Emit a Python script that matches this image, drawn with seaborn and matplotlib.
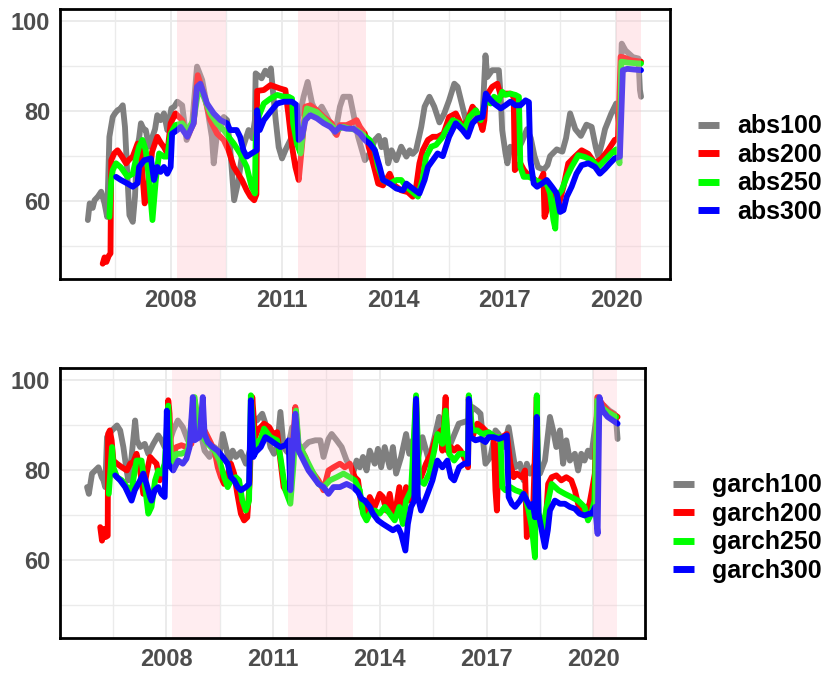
import numpy as np
import pandas as pd
import matplotlib
matplotlib.use('Agg')
import matplotlib.pyplot as plt
import seaborn as sns

sns.set_style('white')
plt.rcParams['font.family'] = ['Liberation Sans', 'DejaVu Sans']
plt.rcParams['font.weight'] = 'bold'

# ── datos panel superior (abs) ───────────────────────────────────────────────
abs100_t = [2005.77, 2005.82, 2005.90, 2005.95, 2006.04, 2006.13, 2006.22, 2006.29, 2006.35, 2006.44,
            2006.50, 2006.57, 2006.64, 2006.71, 2006.77, 2006.84, 2006.89, 2006.98, 2007.04, 2007.09,
            2007.15, 2007.20, 2007.27, 2007.33, 2007.42, 2007.51, 2007.58, 2007.64, 2007.73, 2007.82,
            2007.91, 2008.02, 2008.10, 2008.18, 2008.31, 2008.43, 2008.50, 2008.58, 2008.71, 2008.85,
            2008.98, 2009.11, 2009.16, 2009.25, 2009.35, 2009.43, 2009.52, 2009.60, 2009.71, 2009.83,
            2009.95, 2010.10, 2010.20, 2010.27, 2010.29, 2010.45, 2010.55, 2010.64, 2010.70, 2010.76,
            2010.83, 2010.91, 2011.00, 2011.10, 2011.25, 2011.40, 2011.50, 2011.58, 2011.69, 2011.81,
            2011.94, 2012.07, 2012.20, 2012.30, 2012.43, 2012.56, 2012.65, 2012.83, 2012.92, 2013.05,
            2013.23, 2013.36, 2013.50, 2013.60, 2013.68, 2013.77, 2013.86, 2013.95, 2014.08, 2014.21,
            2014.35, 2014.44, 2014.52, 2014.61, 2014.75, 2014.84, 2014.97, 2015.10, 2015.24, 2015.37,
            2015.50, 2015.64, 2015.73, 2015.86, 2015.95, 2016.08, 2016.22, 2016.31, 2016.40, 2016.48,
            2016.53, 2016.66, 2016.84, 2016.89, 2016.93, 2017.02, 2017.07, 2017.15, 2017.30, 2017.45,
            2017.60, 2017.70, 2017.80, 2017.90, 2018.05, 2018.15, 2018.22, 2018.40, 2018.55, 2018.65,
            2018.76, 2018.90, 2019.05, 2019.20, 2019.34, 2019.45, 2019.52, 2019.62, 2019.70, 2019.87,
            2020.00, 2020.08, 2020.15, 2020.25, 2020.45, 2020.60, 2020.64, 2020.67]
abs100_v = [55.8, 59.5, 58.5, 60.2, 61.0, 62.1, 59.5, 56.5, 74.3, 78.7,
            79.5, 80.2, 80.5, 81.3, 76.5, 64.7, 56.9, 55.4, 61.0, 71.3,
            74.0, 77.3, 76.0, 75.8, 72.1, 74.3, 76.0, 79.1, 78.0, 79.5,
            75.8, 80.6, 81.0, 82.1, 81.3, 73.6, 75.0, 77.3, 89.9, 86.9,
            81.0, 74.3, 68.4, 75.0, 76.5, 78.7, 78.0, 72.1, 60.2, 64.7,
            72.0, 75.8, 74.0, 78.0, 88.4, 87.3, 89.0, 88.0, 89.5, 84.0,
            78.0, 72.0, 69.5, 71.5, 74.0, 78.0, 80.0, 83.2, 86.5, 81.7,
            79.5, 81.0, 79.0, 77.3, 75.0, 81.0, 83.2, 83.2, 79.5, 74.3,
            69.1, 70.6, 73.6, 74.5, 72.0, 73.6, 68.4, 71.3, 69.1, 72.1,
            69.9, 71.3, 70.5, 71.3, 76.5, 81.0, 83.2, 81.0, 77.5, 79.5,
            82.4, 86.1, 85.4, 81.0, 78.0, 76.5, 80.2, 78.0, 78.7, 92.4,
            87.6, 89.1, 89.1, 83.2, 75.8, 70.6, 68.4, 72.1, 70.6, 73.0,
            76.0, 74.0, 70.0, 67.5, 67.0, 68.0, 70.0, 71.5, 71.0, 74.0,
            79.5, 76.0, 74.5, 77.0, 76.5, 72.0, 69.9, 73.0, 76.0, 79.5,
            81.7, 77.0, 95.0, 93.5, 92.0, 91.7, 84.7, 83.2]

abs200_t = [2006.17, 2006.22, 2006.27, 2006.33, 2006.38, 2006.40, 2006.48, 2006.57, 2006.68, 2006.80,
            2006.89, 2006.98, 2007.11, 2007.20, 2007.25, 2007.30, 2007.38, 2007.50, 2007.64, 2007.73,
            2007.82, 2007.91, 2008.00, 2008.13, 2008.31, 2008.45, 2008.62, 2008.73, 2008.89, 2009.07,
            2009.25, 2009.43, 2009.56, 2009.70, 2009.92, 2010.05, 2010.15, 2010.25, 2010.31, 2010.33,
            2010.51, 2010.69, 2010.96, 2011.09, 2011.18, 2011.27, 2011.36, 2011.45, 2011.54, 2011.63,
            2011.76, 2011.94, 2012.12, 2012.34, 2012.47, 2012.56, 2012.74, 2012.92, 2013.01, 2013.10,
            2013.23, 2013.36, 2013.50, 2013.59, 2013.72, 2013.90, 2014.03, 2014.21, 2014.39, 2014.52,
            2014.61, 2014.70, 2014.79, 2014.93, 2015.06, 2015.19, 2015.35, 2015.50, 2015.68, 2015.86,
            2016.00, 2016.13, 2016.26, 2016.40, 2016.45, 2016.49, 2016.66, 2016.80, 2016.89, 2017.02,
            2017.15, 2017.24, 2017.27, 2017.33, 2017.42, 2017.51, 2017.60, 2017.73, 2017.91, 2018.04,
            2018.07, 2018.13, 2018.18, 2018.31, 2018.45, 2018.58, 2018.71, 2018.89, 2019.07, 2019.25,
            2019.43, 2019.61, 2019.78, 2019.96, 2020.05, 2020.12, 2020.25, 2020.40, 2020.67]
abs200_v = [46.1, 47.5, 46.5, 47.8, 48.4, 69.1, 70.6, 71.3, 70.0, 68.4,
            69.3, 69.9, 72.8, 71.5, 65.0, 59.5, 62.0, 71.0, 74.3, 73.0,
            72.0, 70.6, 77.3, 79.5, 78.0, 74.3, 77.3, 88.0, 83.9, 78.0,
            75.0, 73.6, 71.3, 67.6, 64.7, 62.4, 61.0, 60.2, 61.5, 84.5,
            84.7, 85.8, 85.0, 84.7, 78.7, 72.1, 67.6, 64.7, 72.5, 81.0,
            81.3, 80.2, 78.7, 77.3, 74.7, 76.9, 76.9, 77.6, 78.0, 76.5,
            75.0, 71.3, 66.9, 63.9, 63.5, 66.1, 63.5, 62.4, 62.0, 61.0,
            63.0, 68.4, 71.3, 73.6, 74.3, 74.3, 75.0, 78.7, 79.5, 76.5,
            78.0, 81.0, 79.5, 75.8, 78.0, 83.2, 85.4, 86.1, 83.5, 83.9,
            83.9, 83.2, 66.9, 67.5, 68.4, 67.0, 66.1, 65.4, 63.9, 66.1,
            56.5, 58.0, 63.2, 60.2, 59.0, 63.2, 68.4, 69.9, 71.3, 70.5,
            68.4, 69.5, 71.3, 73.6, 73.8, 92.1, 91.8, 91.3, 91.0]

abs250_t = [2006.35, 2006.40, 2006.44, 2006.53, 2006.66, 2006.84, 2006.98, 2007.06, 2007.15, 2007.24,
            2007.33, 2007.42, 2007.51, 2007.60, 2007.69, 2007.82, 2007.91, 2008.00, 2008.13, 2008.31,
            2008.45, 2008.62, 2008.76, 2008.89, 2009.07, 2009.25, 2009.43, 2009.56, 2009.70, 2009.87,
            2010.05, 2010.18, 2010.27, 2010.29, 2010.38, 2010.51, 2010.69, 2010.87, 2011.05, 2011.18,
            2011.27, 2011.30, 2011.40, 2011.50, 2011.58, 2011.67, 2011.94, 2012.30, 2012.47, 2012.65,
            2012.83, 2013.01, 2013.19, 2013.36, 2013.50, 2013.59, 2013.72, 2013.90, 2014.08, 2014.21,
            2014.35, 2014.52, 2014.66, 2014.79, 2014.88, 2015.02, 2015.15, 2015.33, 2015.42, 2015.60,
            2015.77, 2015.91, 2016.04, 2016.22, 2016.35, 2016.49, 2016.62, 2016.71, 2016.84, 2016.93,
            2017.02, 2017.15, 2017.29, 2017.38, 2017.42, 2017.51, 2017.65, 2017.82, 2018.00, 2018.13,
            2018.22, 2018.31, 2018.36, 2018.40, 2018.53, 2018.67, 2018.80, 2018.98, 2019.16, 2019.34,
            2019.52, 2019.70, 2019.87, 2020.00, 2020.09, 2020.14, 2020.30, 2020.59, 2020.67]
abs250_v = [56.5, 64.7, 66.9, 68.4, 67.5, 65.4, 66.1, 69.1, 72.1, 73.6,
            71.3, 64.7, 55.8, 64.7, 70.6, 69.9, 69.9, 75.0, 76.9, 77.3,
            75.8, 78.0, 85.4, 83.2, 79.5, 77.3, 75.8, 74.3, 72.8, 70.6,
            67.6, 63.2, 61.7, 73.6, 79.0, 81.7, 82.8, 83.6, 83.2, 83.2,
            82.8, 77.3, 72.8, 70.6, 76.5, 80.6, 79.8, 76.9, 75.8, 76.5,
            76.1, 75.8, 74.7, 73.6, 71.3, 67.6, 64.7, 63.9, 64.7, 64.7,
            63.2, 62.0, 61.0, 65.0, 69.9, 72.1, 72.5, 74.3, 75.8, 78.0,
            77.3, 75.8, 78.7, 80.2, 78.0, 82.4, 81.7, 83.2, 82.4, 84.3,
            83.6, 83.9, 83.6, 83.2, 67.6, 65.4, 65.4, 64.7, 64.0, 63.9,
            61.7, 55.8, 53.9, 61.0, 62.4, 65.4, 67.6, 70.2, 69.8, 69.1,
            67.6, 69.1, 70.6, 71.5, 68.4, 91.0, 90.8, 90.6, 90.6]

abs300_t = [2006.53, 2006.66, 2006.84, 2006.98, 2007.11, 2007.15, 2007.29, 2007.47, 2007.55, 2007.64,
            2007.73, 2007.82, 2007.91, 2008.00, 2008.04, 2008.18, 2008.27, 2008.45, 2008.62, 2008.71,
            2008.80, 2008.98, 2009.16, 2009.34, 2009.52, 2009.60, 2009.78, 2009.87, 2009.96, 2010.05,
            2010.18, 2010.32, 2010.33, 2010.40, 2010.51, 2010.69, 2010.87, 2011.05, 2011.27, 2011.40,
            2011.45, 2011.54, 2011.63, 2011.76, 2011.94, 2012.12, 2012.30, 2012.43, 2012.56, 2012.74,
            2012.92, 2013.10, 2013.23, 2013.36, 2013.50, 2013.63, 2013.72, 2013.90, 2014.08, 2014.26,
            2014.35, 2014.52, 2014.70, 2014.84, 2014.93, 2015.06, 2015.19, 2015.33, 2015.50, 2015.68,
            2015.86, 2016.00, 2016.13, 2016.26, 2016.40, 2016.49, 2016.58, 2016.71, 2016.89, 2017.02,
            2017.15, 2017.29, 2017.42, 2017.56, 2017.65, 2017.69, 2017.78, 2017.87, 2018.00, 2018.13,
            2018.27, 2018.40, 2018.49, 2018.58, 2018.67, 2018.80, 2018.93, 2019.07, 2019.25, 2019.43,
            2019.56, 2019.70, 2019.83, 2019.96, 2020.10, 2020.18, 2020.30, 2020.67]
abs300_v = [65.4, 64.7, 63.9, 63.2, 64.0, 67.6, 69.1, 69.5, 64.7, 67.6,
            66.5, 67.6, 66.1, 67.6, 75.0, 75.8, 76.5, 74.3, 77.3, 85.4,
            86.1, 81.7, 79.5, 78.0, 77.3, 75.8, 75.8, 74.3, 71.3, 69.9,
            70.6, 71.3, 80.2, 75.8, 78.0, 79.9, 81.7, 82.1, 82.1, 81.3,
            73.6, 74.3, 78.0, 79.1, 78.4, 77.3, 76.5, 75.4, 76.5, 76.1,
            76.1, 75.0, 73.6, 72.8, 71.3, 67.6, 64.7, 63.9, 62.8, 62.4,
            63.9, 62.8, 61.7, 64.7, 67.6, 69.1, 70.6, 70.0, 74.3, 77.3,
            75.8, 74.3, 77.3, 78.4, 78.7, 83.9, 82.8, 81.7, 80.6, 81.3,
            82.1, 81.3, 81.3, 82.4, 82.0, 69.1, 63.9, 63.2, 63.9, 64.7,
            63.2, 61.7, 57.6, 58.0, 61.0, 63.2, 66.1, 68.0, 68.4, 67.6,
            66.1, 67.2, 68.4, 69.5, 69.9, 89.1, 89.4, 89.1]

# ── datos panel inferior (garch) ─────────────────────────────────────────────
garch100_t = [2005.78, 2005.83, 2005.92, 2006.01, 2006.10, 2006.19, 2006.24, 2006.29, 2006.34, 2006.48,
              2006.62, 2006.71, 2006.80, 2006.89, 2006.94, 2007.03, 2007.13, 2007.18, 2007.27, 2007.40,
              2007.50, 2007.64, 2007.78, 2007.87, 2007.96, 2008.10, 2008.20, 2008.33, 2008.47, 2008.61,
              2008.75, 2008.89, 2009.08, 2009.22, 2009.36, 2009.50, 2009.59, 2009.68, 2009.77, 2009.87,
              2009.96, 2010.10, 2010.24, 2010.38, 2010.45, 2010.55, 2010.70, 2010.79, 2010.93, 2011.03,
              2011.12, 2011.21, 2011.30, 2011.40, 2011.54, 2011.63, 2011.77, 2011.86, 2012.00, 2012.19,
              2012.33, 2012.42, 2012.56, 2012.65, 2012.79, 2012.93, 2013.07, 2013.21, 2013.25, 2013.35,
              2013.44, 2013.53, 2013.63, 2013.72, 2013.86, 2013.95, 2014.04, 2014.14, 2014.28, 2014.37,
              2014.46, 2014.60, 2014.74, 2014.83, 2014.93, 2015.06, 2015.20, 2015.38, 2015.52, 2015.67,
              2015.76, 2015.95, 2016.10, 2016.22, 2016.50, 2016.60, 2016.74, 2016.83, 2016.92, 2016.97,
              2017.11, 2017.25, 2017.34, 2017.48, 2017.62, 2017.71, 2017.80, 2017.94, 2018.04, 2018.13,
              2018.22, 2018.36, 2018.50, 2018.64, 2018.78, 2018.87, 2018.96, 2019.06, 2019.15, 2019.24,
              2019.34, 2019.48, 2019.57, 2019.66, 2019.75, 2019.85, 2019.94, 2020.00, 2020.06, 2020.17,
              2020.30, 2020.45, 2020.59, 2020.64, 2020.68]
garch100_v = [76.3, 74.8, 79.3, 80.0, 80.7, 78.5, 77.8, 76.3, 87.4, 88.9,
              90.0, 88.9, 85.2, 80.0, 77.8, 83.0, 91.1, 86.7, 85.2, 85.9,
              83.7, 85.9, 87.8, 86.7, 85.2, 86.5, 88.9, 91.1, 89.6, 86.7,
              87.4, 91.1, 84.4, 83.0, 85.2, 83.7, 88.1, 85.2, 82.2, 84.4,
              83.0, 84.1, 81.5, 85.2, 91.9, 91.1, 92.6, 90.4, 85.2, 83.7,
              85.2, 93.0, 85.2, 84.1, 89.6, 86.7, 83.7, 85.2, 86.3, 86.7,
              86.7, 83.0, 87.0, 88.1, 86.7, 85.2, 82.2, 80.7, 79.3, 82.2,
              80.7, 83.0, 80.0, 84.4, 81.5, 84.8, 80.7, 85.2, 80.7, 85.2,
              79.3, 83.0, 88.1, 83.7, 86.7, 82.2, 87.4, 82.2, 86.7, 91.9,
              89.6, 85.2, 88.1, 90.4, 91.1, 94.1, 93.3, 92.6, 85.2, 81.5,
              83.0, 88.9, 88.1, 85.2, 89.6, 85.2, 80.7, 81.5, 77.8, 81.5,
              79.3, 81.5, 79.3, 82.2, 91.9, 88.9, 85.2, 88.9, 81.5, 86.7,
              82.2, 83.7, 80.0, 83.7, 82.2, 84.4, 83.0, 86.7, 90.4, 94.8,
              94.4, 93.3, 92.6, 91.1, 87.0]

garch200_t = [2006.15, 2006.20, 2006.25, 2006.30, 2006.36, 2006.37, 2006.42, 2006.47, 2006.52, 2006.62,
              2006.76, 2006.90, 2006.99, 2007.08, 2007.17, 2007.27, 2007.36, 2007.45, 2007.55, 2007.64,
              2007.73, 2007.82, 2007.91, 2008.00, 2008.06, 2008.10, 2008.15, 2008.29, 2008.43, 2008.57,
              2008.71, 2008.80, 2008.89, 2009.08, 2009.22, 2009.36, 2009.45, 2009.54, 2009.63, 2009.73,
              2009.82, 2009.91, 2010.00, 2010.10, 2010.19, 2010.28, 2010.35, 2010.42, 2010.50, 2010.57,
              2010.75, 2010.90, 2011.00, 2011.12, 2011.21, 2011.30, 2011.44, 2011.53, 2011.63, 2011.72,
              2011.81, 2011.91, 2012.00, 2012.14, 2012.28, 2012.42, 2012.56, 2012.70, 2012.88, 2013.02,
              2013.16, 2013.30, 2013.39, 2013.49, 2013.58, 2013.72, 2013.86, 2014.00, 2014.09, 2014.18,
              2014.28, 2014.37, 2014.46, 2014.55, 2014.65, 2014.74, 2014.83, 2014.93, 2015.02, 2015.07,
              2015.16, 2015.30, 2015.44, 2015.58, 2015.72, 2015.76, 2015.85, 2015.90, 2016.00, 2016.09,
              2016.18, 2016.27, 2016.41, 2016.48, 2016.50, 2016.60, 2016.74, 2016.88, 2016.97, 2017.06,
              2017.20, 2017.25, 2017.29, 2017.34, 2017.43, 2017.57, 2017.67, 2017.76, 2017.85, 2017.99,
              2018.08, 2018.13, 2018.22, 2018.31, 2018.41, 2018.45, 2018.55, 2018.64, 2018.73, 2018.83,
              2018.96, 2019.10, 2019.24, 2019.38, 2019.48, 2019.57, 2019.66, 2019.80, 2019.89, 2019.96,
              2020.04, 2020.11, 2020.25, 2020.40, 2020.55, 2020.68]
garch200_v = [67.4, 64.4, 67.0, 65.2, 65.5, 88.1, 88.9, 86.7, 82.2, 81.5,
              80.7, 80.0, 81.5, 81.9, 83.7, 80.0, 74.8, 79.3, 83.0, 82.2,
              81.5, 77.8, 80.0, 81.5, 95.6, 92.6, 83.0, 85.2, 85.6, 85.2,
              85.9, 95.6, 91.1, 88.9, 86.7, 84.4, 80.7, 78.5, 77.0, 79.3,
              81.5, 79.3, 74.8, 70.4, 68.9, 69.6, 77.8, 96.3, 87.4, 88.9,
              90.4, 89.6, 88.1, 88.5, 82.2, 76.3, 74.8, 81.5, 94.1, 85.2,
              84.4, 83.0, 80.7, 79.3, 77.8, 75.6, 80.0, 80.7, 81.5, 80.7,
              81.5, 78.5, 77.8, 71.9, 70.4, 74.1, 71.9, 74.8, 74.1, 71.1,
              74.8, 70.4, 71.9, 76.3, 70.4, 76.3, 73.3, 77.8, 96.3, 79.3,
              78.5, 81.5, 83.7, 87.4, 88.9, 84.4, 96.3, 84.4, 85.2, 84.4,
              85.2, 84.4, 82.2, 80.7, 96.3, 87.4, 90.4, 89.6, 88.9, 88.1,
              87.4, 75.6, 71.1, 85.2, 87.4, 88.1, 81.5, 78.5, 79.3, 78.5,
              80.0, 65.2, 68.9, 71.9, 96.3, 70.4, 68.9, 65.9, 77.0, 78.5,
              78.9, 77.8, 78.5, 77.8, 75.6, 72.6, 70.4, 71.1, 72.6, 75.6,
              79.3, 96.3, 94.8, 93.3, 92.6, 91.9]

garch250_t = [2006.39, 2006.43, 2006.48, 2006.52, 2006.62, 2006.76, 2006.90, 2007.03, 2007.17, 2007.31,
              2007.41, 2007.50, 2007.59, 2007.69, 2007.78, 2007.87, 2007.96, 2008.06, 2008.15, 2008.29,
              2008.43, 2008.61, 2008.80, 2008.89, 2009.03, 2009.17, 2009.36, 2009.50, 2009.63, 2009.73,
              2009.82, 2009.96, 2010.05, 2010.14, 2010.24, 2010.33, 2010.38, 2010.47, 2010.57, 2010.66,
              2010.75, 2010.93, 2011.12, 2011.21, 2011.35, 2011.49, 2011.58, 2011.65, 2011.72, 2011.86,
              2012.00, 2012.14, 2012.28, 2012.42, 2012.60, 2012.79, 2012.98, 2013.16, 2013.30, 2013.44,
              2013.53, 2013.63, 2013.72, 2013.86, 2014.00, 2014.14, 2014.28, 2014.42, 2014.55, 2014.65,
              2014.74, 2014.88, 2015.02, 2015.11, 2015.25, 2015.39, 2015.53, 2015.62, 2015.76, 2015.85,
              2015.95, 2016.09, 2016.23, 2016.41, 2016.48, 2016.50, 2016.60, 2016.74, 2016.88, 2017.06,
              2017.25, 2017.39, 2017.44, 2017.53, 2017.67, 2017.81, 2017.95, 2018.08, 2018.18, 2018.27,
              2018.36, 2018.41, 2018.46, 2018.59, 2018.69, 2018.83, 2019.02, 2019.20, 2019.38, 2019.57,
              2019.75, 2019.85, 2019.94, 2020.03, 2020.11, 2020.22, 2020.40, 2020.64]
garch250_v = [74.8, 79.3, 85.2, 80.7, 78.5, 77.8, 76.3, 75.6, 82.2, 82.2,
              76.3, 70.4, 71.9, 77.8, 80.0, 79.3, 81.5, 94.4, 81.5, 83.7,
              83.7, 84.4, 96.3, 90.4, 87.4, 85.9, 84.4, 82.2, 78.5, 76.3,
              77.8, 78.5, 77.8, 73.3, 71.1, 73.3, 96.7, 85.2, 86.3, 87.0,
              89.3, 87.4, 86.7, 83.0, 75.6, 72.6, 81.5, 93.3, 85.9, 83.7,
              81.5, 79.3, 77.0, 76.3, 77.8, 78.5, 79.3, 78.5, 77.8, 75.6,
              70.4, 68.9, 70.4, 71.1, 70.4, 71.9, 70.4, 68.9, 71.9, 68.1,
              73.3, 75.6, 96.7, 77.8, 77.0, 79.3, 84.4, 88.1, 85.9, 93.3,
              83.7, 82.2, 83.7, 83.7, 82.2, 96.7, 88.9, 88.9, 88.1, 88.5,
              87.4, 87.4, 76.3, 75.6, 76.3, 75.6, 75.2, 74.4, 71.1, 67.4,
              60.7, 96.7, 70.4, 67.4, 71.9, 77.0, 75.6, 74.8, 74.1, 73.3,
              71.9, 68.9, 70.4, 73.3, 95.6, 94.1, 93.0, 91.9]

garch300_t = [2006.57, 2006.71, 2006.85, 2006.94, 2007.03, 2007.12, 2007.27, 2007.36, 2007.45, 2007.55,
              2007.59, 2007.68, 2007.78, 2007.87, 2007.96, 2008.02, 2008.06, 2008.20, 2008.34, 2008.47,
              2008.57, 2008.66, 2008.75, 2008.80, 2008.94, 2009.03, 2009.08, 2009.17, 2009.31, 2009.45,
              2009.59, 2009.73, 2009.82, 2009.91, 2010.01, 2010.10, 2010.24, 2010.33, 2010.38, 2010.45,
              2010.52, 2010.66, 2010.79, 2010.93, 2011.07, 2011.21, 2011.35, 2011.44, 2011.49, 2011.56,
              2011.63, 2011.72, 2011.86, 2012.00, 2012.14, 2012.28, 2012.42, 2012.56, 2012.70, 2012.88,
              2013.07, 2013.25, 2013.39, 2013.49, 2013.58, 2013.72, 2013.81, 2013.95, 2014.09, 2014.23,
              2014.37, 2014.51, 2014.60, 2014.72, 2014.79, 2014.88, 2014.97, 2015.02, 2015.07, 2015.16,
              2015.34, 2015.48, 2015.62, 2015.76, 2015.90, 2016.00, 2016.09, 2016.23, 2016.37, 2016.48,
              2016.50, 2016.55, 2016.69, 2016.83, 2016.97, 2017.06, 2017.20, 2017.34, 2017.48, 2017.57,
              2017.62, 2017.71, 2017.80, 2017.94, 2018.04, 2018.13, 2018.22, 2018.30, 2018.36, 2018.41,
              2018.46, 2018.55, 2018.64, 2018.72, 2018.78, 2018.92, 2019.06, 2019.20, 2019.34, 2019.48,
              2019.61, 2019.75, 2019.89, 2019.96, 2020.05, 2020.12, 2020.17, 2020.26, 2020.40, 2020.68]
garch300_v = [78.9, 77.8, 76.3, 74.8, 73.3, 75.6, 77.8, 79.3, 77.0, 74.1,
              73.3, 75.6, 76.3, 74.8, 74.1, 93.3, 81.5, 80.0, 82.2, 81.5,
              82.6, 85.2, 96.3, 86.7, 87.4, 96.3, 88.1, 86.3, 85.2, 84.4,
              83.0, 81.5, 78.5, 77.8, 76.3, 75.6, 76.3, 77.0, 95.6, 83.0,
              84.1, 85.2, 87.4, 86.7, 85.9, 85.2, 85.6, 86.7, 75.6, 85.2,
              92.6, 84.4, 82.2, 80.0, 78.5, 77.0, 76.3, 74.8, 76.3, 76.3,
              77.0, 76.3, 75.2, 73.7, 73.3, 71.9, 70.4, 68.9, 68.1, 67.4,
              66.7, 67.4, 65.9, 62.2, 68.1, 71.9, 73.3, 95.9, 74.1, 71.1,
              74.8, 77.8, 82.2, 80.7, 82.2, 78.5, 77.8, 80.7, 81.5, 81.5,
              95.9, 87.4, 86.7, 87.0, 86.3, 87.4, 87.4, 87.0, 87.4, 87.8,
              74.1, 72.6, 71.9, 73.3, 74.8, 73.3, 71.9, 72.6, 69.6, 91.9,
              70.4, 66.7, 63.0, 66.7, 71.1, 73.3, 72.6, 72.6, 71.9, 71.5,
              70.4, 70.0, 70.4, 70.4, 71.9, 65.9, 96.3, 93.3, 91.9, 90.4]

SOMBRAS = [(2008.17, 2009.50), (2011.42, 2013.25), (2020.00, 2020.67)]
COLORES = ['#7F7F7F', '#FF0000', '#00FF00', '#0000FF']
TICKS_X = [2008, 2011, 2014, 2017, 2020]


def tabla(series):
    partes = [pd.DataFrame({'year': t, 'value': v, 'serie': n}) for n, t, v in series]
    return pd.concat(partes, ignore_index=True)


def panel(ax, series, alpha, ancla):
    nombres = [s[0] for s in series]
    df = tabla(series)
    sns.lineplot(data=df, x='year', y='value', hue='serie', hue_order=nombres,
                 palette=dict(zip(nombres, COLORES)), estimator=None, sort=False,
                 linewidth=4.2, solid_capstyle='round', solid_joinstyle='round',
                 legend=False, ax=ax)
    for a, b in SOMBRAS:
        ax.axvspan(a, b, color='pink', alpha=alpha, lw=0, zorder=3)
    ax.set_xlim(2005.02, 2021.45); ax.set_ylim(42.7, 102.7)
    ax.set_xticks(TICKS_X); ax.set_xticklabels([str(x) for x in TICKS_X])
    ax.set_xticks([2006.5, 2009.5, 2012.5, 2015.5, 2018.5], minor=True)
    ax.set_yticks([60, 80, 100]); ax.set_yticks([50, 70, 90], minor=True)
    ax.set_axisbelow(True)
    ax.grid(which='major', color='#EBEBEB', lw=1.4)
    ax.grid(which='minor', color='#EBEBEB', lw=1.0)
    ax.tick_params(which='major', length=4, width=1, color='#333333',
                   labelsize=17, labelcolor='#4D4D4D', pad=3)
    ax.tick_params(which='minor', length=0)
    ax.set_xlabel(''); ax.set_ylabel('')
    for sp in ax.spines.values():
        sp.set_visible(True); sp.set_edgecolor('black'); sp.set_linewidth(2); sp.set_zorder(5)
    leg = ax.legend(ax.get_lines()[:4], nombres, loc='center left', bbox_to_anchor=ancla,
                    frameon=False, fontsize=18, handlelength=0.84, handletextpad=0.72,
                    labelspacing=0.18, borderpad=0, borderaxespad=0, labelcolor='black')
    for h in leg.legend_handles:
        h.set_linewidth(5); h.set_solid_capstyle('butt')


fig = plt.figure(figsize=(8.3, 6.73), dpi=100)
ax1 = fig.add_axes([60/830, 1 - 279/673, 610/830, 270/673])
ax2 = fig.add_axes([60/830, 1 - 638.3/673, 585/830, 270/673])

panel(ax1, [('abs100', abs100_t, abs100_v), ('abs200', abs200_t, abs200_v),
            ('abs250', abs250_t, abs250_v), ('abs300', abs300_t, abs300_v)],
      0.35, (1.046, 0.407))
panel(ax2, [('garch100', garch100_t, garch100_v), ('garch200', garch200_t, garch200_v),
            ('garch250', garch250_t, garch250_v), ('garch300', garch300_t, garch300_v)],
      0.28, (1.048, 0.4085))

fig.savefig('out.png', dpi=100, facecolor='white')
